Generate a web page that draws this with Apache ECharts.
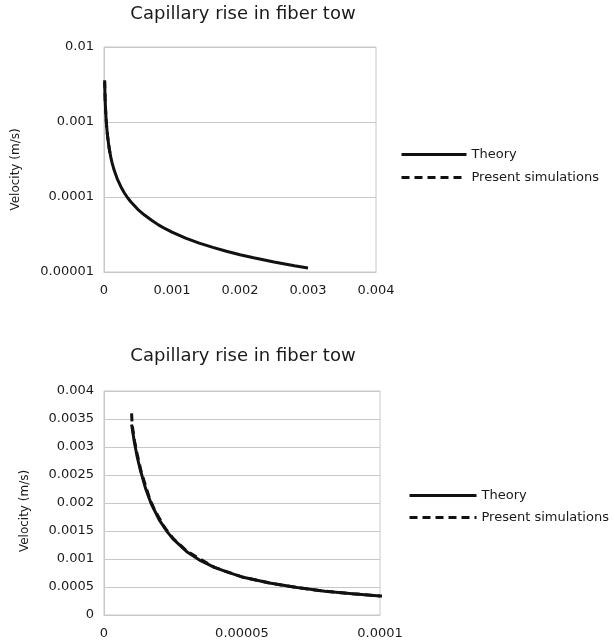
<!DOCTYPE html>
<html>
<head>
<meta charset="utf-8">
<script src="https://cdn.jsdelivr.net/npm/echarts@6/dist/echarts.min.js"></script>
<style>
  html, body { margin: 0; padding: 0; background: #fff; }
  #chart { width: 614px; height: 644px; }
</style>
</head>
<body>
<div id="chart"></div>
<script>
// Capillary rise velocity vs. height: theory and simulation
const chartTitle = 'Capillary rise in fiber tow';
const yAxisName = 'Velocity (m/s)';
const seriesNames = ['Theory', 'Present simulations'];

// Theory curve (height in m, velocity in m/s)
const theoryX = [0.00001, 0.000011, 0.000012, 0.000013, 0.000015, 0.000017, 0.00002, 0.000023,
  0.000025, 0.00003, 0.000035, 0.00004, 0.000045, 0.00005, 0.00006, 0.00007, 0.00008, 0.00009,
  0.0001, 0.00012, 0.00015, 0.0002, 0.00025, 0.0003, 0.00035, 0.0004, 0.0005, 0.0006, 0.0007,
  0.0008, 0.0009, 0.001, 0.0012, 0.0014, 0.0016, 0.0018, 0.002, 0.0022, 0.0025, 0.0028, 0.003];
const theoryV = [0.0034, 0.00309, 0.00283, 0.00262, 0.00227, 0.002, 0.0017, 0.00148,
  0.00136, 0.00113, 0.00097, 0.00085, 0.00076, 0.00068, 0.00057, 0.00049, 0.000425, 0.00038,
  0.00034, 0.000283, 0.000227, 0.00017, 0.000136, 0.000113, 0.000097, 0.000085, 0.000068, 0.000057, 0.000049,
  0.0000425, 0.0000378, 0.000034, 0.0000283, 0.0000243, 0.0000213, 0.0000189, 0.000017, 0.0000155, 0.0000136, 0.0000121, 0.0000113];

// Simulation results
const simX = [0.00001, 0.0000102, 0.000011, 0.000012, 0.0000135, 0.000015, 0.0000165, 0.000018,
  0.00002, 0.000022, 0.000025, 0.00003, 0.00004, 0.00005, 0.00006, 0.00007, 0.00008, 0.00009, 0.0001];
const simV = [0.0036, 0.0034, 0.00312, 0.00288, 0.00255, 0.00232, 0.00208, 0.00191,
  0.00173, 0.00156, 0.00137, 0.00114, 0.00085, 0.00068, 0.00057, 0.00049, 0.000425, 0.00038, 0.00034];

// Tick labels
const topXTicks = ['0', '0.001', '0.002', '0.003', '0.004'];
const topYTicks = ['0.00001', '0.0001', '0.001', '0.01'];
const bottomXTicks = ['0', '0.00005', '0.0001'];
const bottomYTicks = ['0', '0.0005', '0.001', '0.0015', '0.002', '0.0025', '0.003', '0.0035', '0.004'];

const pairs = (xs, ys) => xs.map((x, i) => [x, ys[i]]);
const theoryData = pairs(theoryX, theoryV);
const simData = pairs(simX, simV);

const font = 'DejaVu Sans';
const textColor = '#1a1a1a';
const gridColor = '#c8c8c8';

function labelFrom(list) {
  return function (v) {
    let best = list[0], bd = Infinity;
    for (const s of list) {
      const d = Math.abs(parseFloat(s) - v);
      if (d < bd) { bd = d; best = s; }
    }
    return best;
  };
}

const axisLabel = (list, margin) => ({
  color: textColor, fontFamily: font, fontSize: 13, margin: margin,
  formatter: labelFrom(list)
});

const chart = echarts.init(document.getElementById('chart'), null, { renderer: 'canvas' });

const lineSeries = (name, data, xi, dashed) => ({
  name: name,
  type: 'line',
  xAxisIndex: xi,
  yAxisIndex: xi,
  data: data,
  symbol: 'none',
  smooth: false,
  clip: true,
  z: dashed ? 2 : 3,
  lineStyle: { color: '#111', width: 3, type: dashed ? [8, 5] : 'solid' },
  itemStyle: { color: '#111' }
});

const legendCommon = {
  orient: 'vertical', padding: 0, itemHeight: 14, selectedMode: false,
  itemStyle: { opacity: 0, borderWidth: 0 },
  lineStyle: { width: 3 },
  textStyle: { fontFamily: font, fontSize: 13, color: textColor }
};

chart.setOption({
  animation: false,
  backgroundColor: '#fff',
  title: [
    { text: chartTitle, left: 243, top: 5, textAlign: 'center', padding: 0,
      textStyle: { fontFamily: font, fontSize: 18, fontWeight: 'normal', color: textColor } },
    { text: chartTitle, left: 243, top: 347, textAlign: 'center', padding: 0,
      textStyle: { fontFamily: font, fontSize: 18, fontWeight: 'normal', color: textColor } }
  ],
  legend: [
    Object.assign({}, legendCommon, { data: seriesNames, left: 400, top: 148, itemWidth: 65, itemGap: 10 }),
    Object.assign({}, legendCommon, { data: seriesNames, left: 408, top: 489, itemWidth: 67, itemGap: 9 })
  ],
  grid: [
    { left: 104, top: 47, width: 272, height: 225, show: true,
      borderColor: gridColor, borderWidth: 1, containLabel: false },
    { left: 104, top: 391, width: 276, height: 224, show: true,
      borderColor: gridColor, borderWidth: 1, containLabel: false }
  ],
  xAxis: [
    { type: 'value', gridIndex: 0, min: 0, max: 0.004, interval: 0.001,
      axisLine: { show: true, lineStyle: { color: gridColor } },
      axisTick: { show: false }, splitLine: { show: false },
      axisLabel: axisLabel(topXTicks, 12) },
    { type: 'value', gridIndex: 1, min: 0, max: 0.0001, interval: 0.00005,
      axisLine: { show: true, lineStyle: { color: gridColor } },
      axisTick: { show: false }, splitLine: { show: false },
      axisLabel: axisLabel(bottomXTicks, 12) }
  ],
  yAxis: [
    { type: 'log', logBase: 10, gridIndex: 0, min: 0.00001, max: 0.01,
      name: yAxisName, nameLocation: 'middle', nameGap: 82,
      nameTextStyle: { fontFamily: font, fontSize: 12, color: textColor, padding: [0, 20, 0, 0] },
      axisLine: { show: true, lineStyle: { color: gridColor } },
      axisTick: { show: false },
      splitLine: { show: true, lineStyle: { color: gridColor } },
      minorSplitLine: { show: false },
      axisLabel: axisLabel(topYTicks, 10) },
    { type: 'value', gridIndex: 1, min: 0, max: 0.004, interval: 0.0005,
      name: yAxisName, nameLocation: 'middle', nameGap: 73,
      nameTextStyle: { fontFamily: font, fontSize: 12, color: textColor, padding: [0, 16, 0, 0] },
      axisLine: { show: true, lineStyle: { color: gridColor } },
      axisTick: { show: false },
      splitLine: { show: true, lineStyle: { color: gridColor } },
      axisLabel: axisLabel(bottomYTicks, 10) }
  ],
  series: [
    lineSeries(seriesNames[0], theoryData, 0, false),
    lineSeries(seriesNames[1], simData, 0, true),
    lineSeries(seriesNames[0], theoryData, 1, false),
    lineSeries(seriesNames[1], simData, 1, true)
  ]
});
</script>
</body>
</html>
